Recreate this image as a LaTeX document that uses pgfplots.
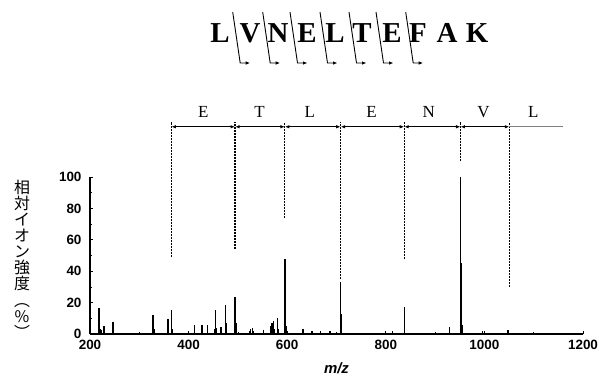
\documentclass[border=0pt]{standalone}
\usepackage{fontspec}
\setmainfont{Liberation Sans}
\newfontfamily\serif{Liberation Serif}
\newfontfamily\cjk{Noto Sans CJK JP}
\usepackage{pgfplots}
\pgfplotsset{compat=1.18}
\usetikzlibrary{arrows.meta}

\begin{document}
\begin{tikzpicture}[x=1bp,y=1bp]
\useasboundingbox (-90,-49) rectangle (509,334);
\begin{axis}[at={(0,0)}, anchor=south west, scale only axis,
  width=493bp, height=157bp,
  xmin=200, xmax=1200, ymin=0, ymax=100,
  axis x line*=bottom, axis y line*=left,
  axis line style={-, line width=1.1bp},
  xtick={200,400,...,1200}, ytick={0,20,...,100},
  minor x tick num=1, minor y tick num=1,
  tick align=inside, major tick length=3bp, minor tick length=2bp,
  tick style={black, line width=0.8bp},
  ticklabel style={font=\fontsize{13.5}{13.5}\selectfont\bfseries},
  /pgf/number format/assume math mode=true,
  /pgf/number format/1000 sep={},
  xticklabel style={yshift=-3bp},
  yticklabel style={xshift=-5bp},
  xlabel={\textbf{\textit{m/z}}},
  xlabel style={font=\fontsize{15}{15}\selectfont, at={(axis description cs:0.5,0)}, anchor=center, yshift=-34bp},
  clip=false]
\addplot[ycomb, black, line width=1.4bp, mark=none] coordinates {
(218,16.5) (220,3) (222,2.5) (228,5) (247,7.5) (300,1) (328,12) (330,3)
(358,9.5) (365,15) (367,3) (412,6) (427,6) (438,6) (453,3) (455,15) (457,4)
(466,4.5) (475,18.5) (477,7) (494.3,23.5) (496,7) (524,2) (526,3) (530,4) (532,2)
(552,2.5) (566,5) (569,7) (572,8) (574,3) (580,10) (582,3)
(595.3,48) (596.5,20) (597.5,5) (632,3.5) (650,2) (668,2) (687,2)
(708.4,33) (709.5,13) (710.5,3) (814,2) (837.4,17) (838.5,6)
(929,4.5) (951.5,100) (952.5,45) (953.5,20) (954.5,6) (996,2) (1048,2.5)
};
% fragment boundary lines
\pgfplotsset{frag/.style={black, line width=1.2bp, dash pattern=on 2bp off 1bp}}
\addplot[frag] coordinates {(365.2,49) (365.2,135)};
\addplot[frag] coordinates {(494.3,54) (494.3,135)};
\addplot[frag] coordinates {(595.3,74) (595.3,135)};
\addplot[frag] coordinates {(708.4,35) (708.4,135)};
\addplot[frag] coordinates {(837.4,48) (837.4,135)};
\addplot[frag] coordinates {(951.5,110) (951.5,135)};
\addplot[frag] coordinates {(1050.6,30) (1050.6,135)};
\tikzset{dbl/.style={{Latex[length=4.5bp,width=3.5bp]}-{Latex[length=4.5bp,width=3.5bp]}, line width=0.9bp}}
\draw[dbl] (axis cs:365.2,132) -- (axis cs:494.3,132);
\draw[dbl] (axis cs:494.3,132) -- (axis cs:595.3,132);
\draw[dbl] (axis cs:595.3,132) -- (axis cs:708.4,132);
\draw[dbl] (axis cs:708.4,132) -- (axis cs:837.4,132);
\draw[dbl] (axis cs:837.4,132) -- (axis cs:951.5,132);
\draw[dbl] (axis cs:951.5,132) -- (axis cs:1050.6,132);
\draw[gray, line width=1bp] (axis cs:1050.6,132) -- (axis cs:1159,132);
\begin{scope}[font=\serif\fontsize{17}{17}\selectfont]
\node at (axis cs:430,141.5) {E};
\node at (axis cs:544,141.5) {T};
\node at (axis cs:646,141.5) {L};
\node at (axis cs:771,141.5) {E};
\node at (axis cs:887,141.5) {N};
\node at (axis cs:998,141.5) {V};
\node at (axis cs:1099,141.5) {L};
\end{scope}
\end{axis}
% y label, vertical
\node[font=\cjk\fontsize{16}{16.2}\selectfont, align=center, inner sep=0pt] at (-68,75)
 {相\\対\\イ\\オ\\ン\\強\\度\\︵\\\%\\︶};
% title sequence
\begin{scope}[font=\serif\bfseries\fontsize{29}{29}\selectfont]
\node at (130,301) {L};
\node at (160,301) {V};
\node at (188,301) {N};
\node at (217,301) {E};
\node at (245,301) {L};
\node at (272,301) {T};
\node at (302,301) {E};
\node at (328,301) {F};
\node at (357,301) {A};
\node at (387,301) {K};
\end{scope}
\foreach \x in {142.7,172.7,200,230,259,286,315.7}{
  \draw[line width=0.9bp, -{Latex[length=4.5bp,width=3.5bp]}] (\x,322) -- (\x+7.5,271) -- (\x+17.5,271);
}
\end{tikzpicture}
\end{document}
